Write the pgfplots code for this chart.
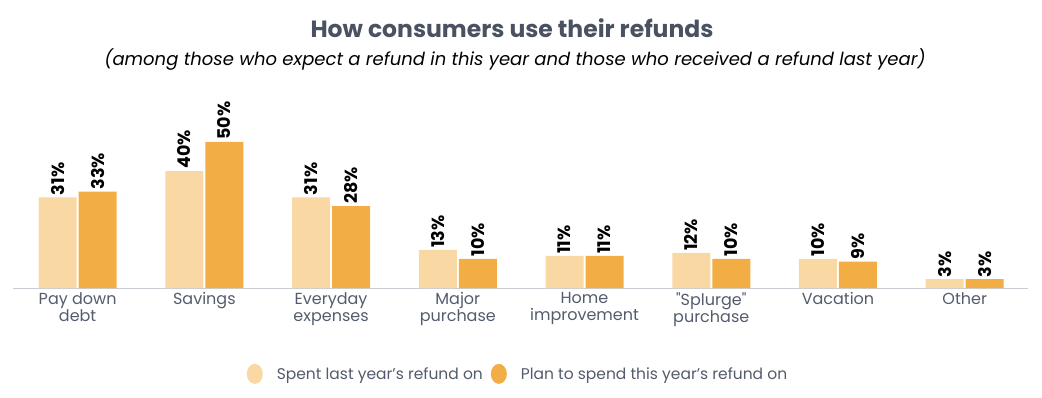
\documentclass[border=0pt]{standalone}
\usepackage{pgfplots}
\pgfplotsset{compat=1.18}
\usepackage{fontspec}
\setmainfont{Poppins}
\definecolor{light}{HTML}{F9D8A4}
\definecolor{dark}{HTML}{F2AE45}
\definecolor{titlec}{HTML}{4A5262}
\definecolor{tickc}{HTML}{535C6C}
\definecolor{axisc}{HTML}{C9CDD3}
\begin{document}
\begin{tikzpicture}[x=1pt,y=1pt]
\path[use as bounding box] (0,0) rectangle (1042,397);
\begin{axis}[
  at={(13pt,109pt)}, anchor=south west,
  scale only axis, width=1015pt, height=193pt,
  xmin=-0.51, xmax=7.5, ymin=0, ymax=66,
  ybar, bar width=38pt,
  axis x line*=bottom, axis y line=none,
  x axis line style={draw=axisc, line width=1pt, -},
  xtick=data, major tick length=0pt,
  xticklabels={{Pay down\\debt},Savings,{Everyday\\expenses},{Major\\purchase},{Home\\improvement},{\textquotedbl Splurge\textquotedbl\\purchase},Vacation,Other},
  xticklabel style={align=center, font=\fontsize{16}{17}\selectfont, text=tickc, yshift=-1pt},
  /pgf/number format/assume math mode=true,
  nodes near coords={\pgfmathprintnumber{\pgfplotspointmeta}\%},
  nodes near coords style={rotate=90, anchor=west, font=\bfseries\fontsize{17.5}{17.5}\selectfont, text=black, inner sep=2pt},
  legend style={at={(0.4975,-0.445)}, anchor=center, draw=none, legend columns=2,
    font=\fontsize{15.5}{15.5}\selectfont, text=tickc,
    /tikz/every even column/.append style={column sep=6pt}},
  legend image code/.code={\fill[#1] (0.3em,0) ellipse (8pt and 10pt);},
  legend cell align=left,
  clip=false,
]
\addplot[fill=light, draw=none, bar shift=-20pt] coordinates {(0,31) (1,40) (2,31) (3,13) (4,11) (5,12) (6,10) (7,3)};
\addplot[fill=dark, draw=none, bar shift=20pt] coordinates {(0,33) (1,50) (2,28) (3,10) (4,11) (5,10) (6,9) (7,3)};
\legend{\hspace{12pt}Spent last year's refund on, \hspace{12pt}Plan to spend this year's refund on}
\end{axis}
\node[font=\bfseries\fontsize{23.5}{23.5}\selectfont, text=titlec] at (512,369) {How consumers use their refunds};
\node[font=\itshape\fontsize{18}{18}\selectfont, text=black] at (515,337) {(among those who expect a refund in this year and those who received a refund last year)};
\end{tikzpicture}
\end{document}
